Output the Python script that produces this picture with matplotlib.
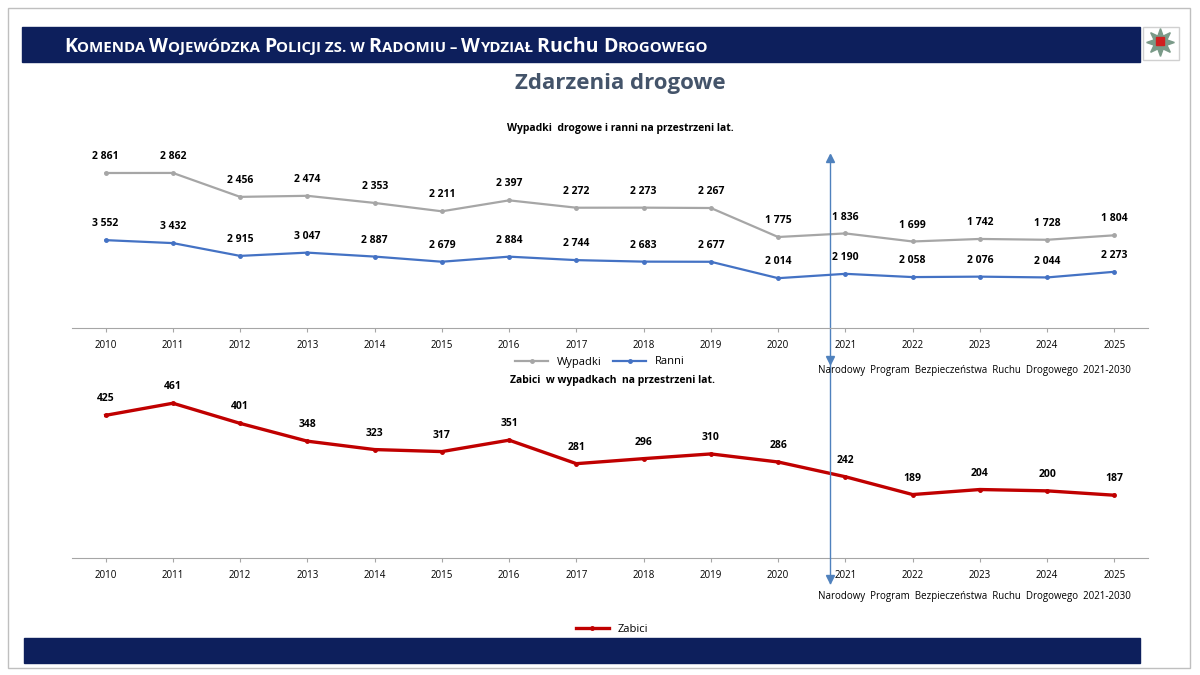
import matplotlib.pyplot as plt
from matplotlib.patches import Rectangle

lata = list(range(2010, 2026))
wypadki = [2861, 2862, 2456, 2474, 2353, 2211, 2397, 2272, 2273, 2267, 1775, 1836, 1699, 1742, 1728, 1804]
ranni = [3552, 3432, 2915, 3047, 2887, 2679, 2884, 2744, 2683, 2677, 2014, 2190, 2058, 2076, 2044, 2273]
zabici = [425, 461, 401, 348, 323, 317, 351, 281, 296, 310, 286, 242, 189, 204, 200, 187]

plt.rcParams['font.family'] = ['Open Sans', 'DejaVu Sans']
W, H = 1200, 675
fig = plt.figure(figsize=(12, 6.75), dpi=100)


def fx(x):
    return x / W


def fy(y):
    return 1 - y / H


def fmt(v):
    return f"{v:,}".replace(",", " ")


NAVY = '#0d1f5c'
GRAY = '#a6a6a6'
BLUE = '#4472c4'
RED = '#c00000'

# ramka i paski
fig.patches.append(Rectangle((fx(8), fy(668)), fx(1182), fy(8) - fy(668),
                             transform=fig.transFigure, fill=False, ec='#bfbfbf', lw=1))
fig.patches.append(Rectangle((fx(22), fy(62)), fx(1118), fy(27) - fy(62), transform=fig.transFigure,
                             color=NAVY))
fig.patches.append(Rectangle((fx(24), fy(663)), fx(1116), fy(638) - fy(663), transform=fig.transFigure,
                             color=NAVY))
# logo (uproszczone, jako znaczniki)
fig.patches.append(Rectangle((fx(1143), fy(60)), fx(36), fy(27) - fy(60), transform=fig.transFigure,
                             color='white', ec='#d0d0d0'))
fig.add_artist(plt.Line2D([fx(1160)], [fy(42)], marker=(8, 1, 0), color='#7a9a88', ms=20,
                          transform=fig.transFigure))
fig.add_artist(plt.Line2D([fx(1160)], [fy(41)], marker='s', color='#d02020', ms=6,
                          transform=fig.transFigure))

# naglowek w kapitalikach
DU, MA = 14, 10.8
parts = [("K", DU), ("OMENDA ", MA), ("W", DU), ("OJEWÓDZKA ", MA), ("P", DU), ("OLICJI ZS. W ", MA),
         ("R", DU), ("ADOMIU – ", MA), ("W", DU), ("YDZIAŁ ", MA), ("R", DU), ("uchu ", DU),
         ("D", DU), ("ROGOWEGO", MA)]
renderer = fig.canvas.get_renderer()
x = fx(64)
for txt, size in parts:
    t = fig.text(x, fy(52), txt, color='white', fontsize=size, fontweight='bold', va='baseline')
    bb = t.get_window_extent(renderer=renderer)
    x += bb.width / W

fig.text(fx(620), fy(84), 'Zdarzenia drogowe', color='#44546a', fontsize=16, fontweight='bold',
         ha='center', va='center')

# wykres gorny
ax1 = fig.add_axes([fx(72), fy(328), fx(1076), fy(140) - fy(328)])
ax2 = ax1.twinx()
ax1.plot(lata, ranni, color=BLUE, lw=1.6, marker='o', ms=2.5, label='Ranni', zorder=3)
ax2.plot(lata, wypadki, color=GRAY, lw=1.6, marker='o', ms=2.5, label='Wypadki')
ax1.set_ylim(0, 7600)
ax2.set_ylim(231, 3421)
for a in (ax1, ax2):
    a.set_xlim(2009.5, 2025.5)
    a.set_yticks([])
    for s in ['top', 'right', 'left']:
        a.spines[s].set_visible(False)
    a.spines['bottom'].set_color('#a6a6a6')
ax2.spines['bottom'].set_visible(False)
ax1.set_zorder(2)
ax1.patch.set_visible(False)
ax1.set_xticks(lata)
ax1.tick_params(axis='x', labelsize=7, length=3, color='#a6a6a6', pad=6)
for yr, v in zip(lata, ranni):
    ax1.annotate(fmt(v), (yr, v), xytext=(0, 10), textcoords='offset points', ha='center',
                 fontsize=7.5, fontweight='bold')
for yr, v in zip(lata, wypadki):
    ax2.annotate(fmt(v), (yr, v), xytext=(0, 10), textcoords='offset points', ha='center',
                 fontsize=7.5, fontweight='bold')
fig.text(fx(620), fy(128), 'Wypadki  drogowe i ranni na przestrzeni lat.', fontsize=7.5,
         fontweight='bold', ha='center', va='center')
h2, l2 = ax2.get_legend_handles_labels()
h1, l1 = ax1.get_legend_handles_labels()
fig.legend(h2 + h1, l2 + l1, loc='center', bbox_to_anchor=(fx(600), fy(362)), ncol=2, frameon=False,
           fontsize=8, handlelength=3, columnspacing=1)

# wykres dolny
ax3 = fig.add_axes([fx(72), fy(558), fx(1076), fy(370) - fy(558)])
ax3.plot(lata, zabici, color=RED, lw=2.4, marker='o', ms=2.5, label='Zabici')
ax3.set_ylim(0, 560)
ax3.set_xlim(2009.5, 2025.5)
ax3.set_yticks([])
for s in ['top', 'right', 'left']:
    ax3.spines[s].set_visible(False)
ax3.spines['bottom'].set_color('#a6a6a6')
ax3.set_xticks(lata)
ax3.tick_params(axis='x', labelsize=7, length=3, color='#a6a6a6', pad=6)
for yr, v in zip(lata, zabici):
    ax3.annotate(str(v), (yr, v), xytext=(0, 10), textcoords='offset points', ha='center',
                 fontsize=7.5, fontweight='bold')
fig.text(fx(612), fy(381), 'Zabici  w wypadkach  na przestrzeni lat.', fontsize=7.5, fontweight='bold',
         ha='center', va='center')
fig.legend(*ax3.get_legend_handles_labels(), loc='center', bbox_to_anchor=(fx(612), fy(629)),
           frameon=False, fontsize=8, handlelength=3)

# strzalka NPBRD
AC = '#4f81bd'
fig.add_artist(plt.Line2D([fx(830), fx(830)], [fy(155), fy(583)], color=AC, lw=1))
fig.add_artist(plt.Line2D([fx(830)], [fy(158)], marker='^', color=AC, ms=6, transform=fig.transFigure))
fig.add_artist(plt.Line2D([fx(830)], [fy(360)], marker='v', color=AC, ms=6, transform=fig.transFigure))
fig.add_artist(plt.Line2D([fx(830)], [fy(579)], marker='v', color=AC, ms=6, transform=fig.transFigure))
for yy in (370, 597):
    fig.text(fx(818), fy(yy), 'Narodowy  Program  Bezpieczeństwa  Ruchu  Drogowego  2021-2030', fontsize=7,
             ha='left', va='center')

fig.savefig('out.png', dpi=100)
